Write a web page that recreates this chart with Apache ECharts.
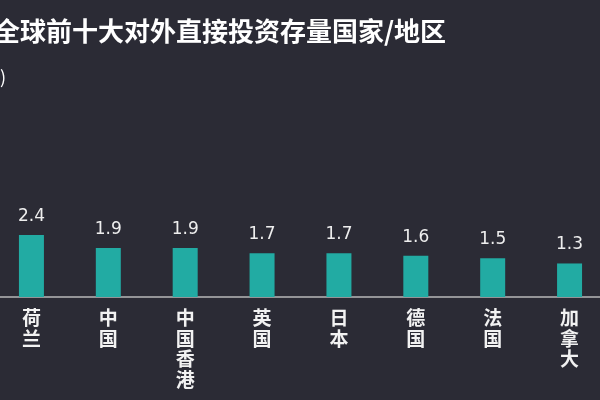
<!DOCTYPE html>
<html><head><meta charset="utf-8">
<script src="https://cdn.jsdelivr.net/npm/echarts@6/dist/echarts.min.js"></script>
<style>html,body{margin:0;padding:0;background:#2b2b35;overflow:hidden;width:600px;height:400px;}#c{position:absolute;left:-7px;top:0;width:615px;height:400px;}</style>
</head><body><div id="c"></div>
<script>
const titleText = '全球前十大对外直接投资存量国家/地区';
const unitText = '(万亿美元)';
const categories = ['荷兰', '中国', '中国香港', '英国', '日本', '德国', '法国', '加拿大'];
const values = [2.4, 1.9, 1.9, 1.7, 1.7, 1.6, 1.5, 1.3];

const chart = echarts.init(document.getElementById('c'));
chart.setOption({
  backgroundColor: '#2b2b35',
  animation: false,
  graphic: [
    { type: 'text', left: 1, top: 18, style: { text: titleText, fill: '#ffffff', font: 'bold 26px "Noto Sans CJK SC", sans-serif' } },
    { type: 'text', right: 602, top: 68, style: { text: unitText, fill: '#ffffff', font: '18px "Noto Sans CJK SC", sans-serif' } }
  ],
  grid: { left: 0, right: 0, top: 90.6, bottom: 103, containLabel: false },
  xAxis: {
    type: 'category', data: categories,
    axisLine: { lineStyle: { color: '#b8b8b8', width: 1.5 } },
    axisTick: { show: false },
    axisLabel: {
      color: '#f2f2f2', fontSize: 19, lineHeight: 20.5, margin: 11, interval: 0, fontWeight: 'bold',
      fontFamily: '"Noto Sans CJK SC", sans-serif',
      formatter: v => v.split('').join('\n')
    }
  },
  yAxis: { type: 'value', min: 0, max: 8, show: false, splitLine: { show: false } },
  series: [{
    type: 'bar', data: values, barWidth: 25,
    itemStyle: { color: '#22aba3' },
    label: {
      show: true, position: 'top', distance: 10, color: '#eeeeee', fontSize: 17,
      fontFamily: '"DejaVu Sans", sans-serif'
    }
  }]
});
</script></body></html>
